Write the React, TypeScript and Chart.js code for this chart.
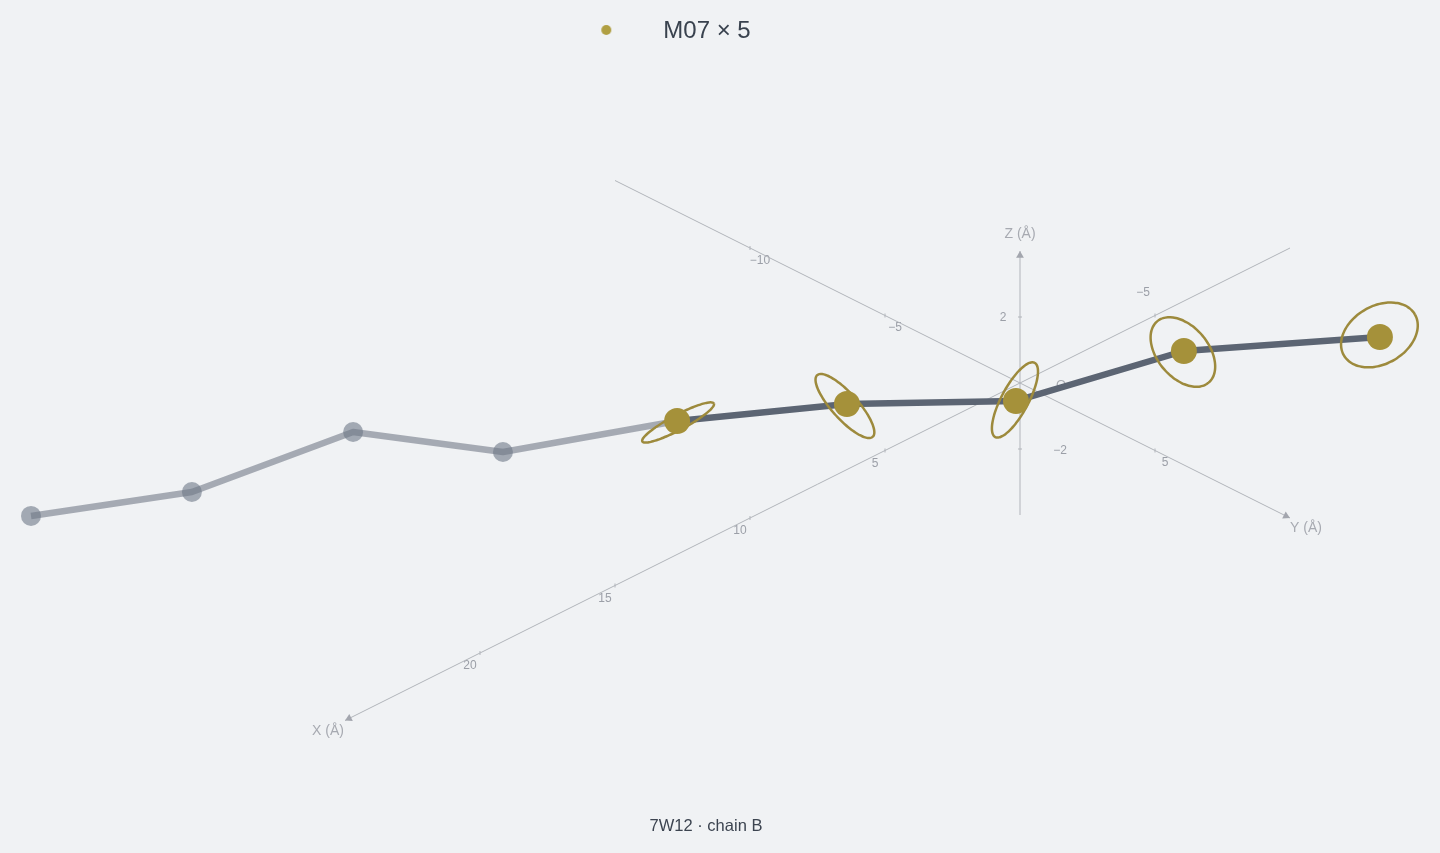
import React, { useEffect, useRef } from "react";
import { Chart, registerables } from "chart.js";

Chart.register(...registerables);

// Chain trace in Å (x, y, z)
const chainX = [23.85, 20.35, 16.0, 12.62, 8.49, 4.35, 0.495, -3.12, -7.76];
const chainY = [-12.78, -10.32, -8.7, -6.53, -4.21, -2.06, 0.345, 2.95, 5.57];
const chainZ = [0.5, 0.8, 1.5, 0.4, 0.6, 0.3, -0.2, 0.9, 0.5];
const firstMetalIndex = 4;

// Displacement ellipses of the metal sites, in view units
const ringMajor = [40.5, 41.5, 42, 40, 41];
const ringMinor = [7.5, 13, 13.5, 25.5, 29];
const ringAngle = [-28, 48, -62, 50, -30];
const ringShiftX = [1, -2, -1, -1, -0.5];
const ringShiftY = [1.5, 2, -1, 1, -2];

const xAxisRange = [25, -10];
const yAxisRange = [-15, 10];
const zAxisRange = [-4, 4];
const xTicks = [-5, 5, 10, 15, 20];
const yTicks = [-10, -5, 5];
const zTicks = [-2, 2];
const legendText = "M07 × 5";
const titleText = "7W12 · chain B";

const BG = "#f0f2f4";
const GOLD = "#a5913a";
const RING = "#9d8a3c";
const AXIS = "#b1b4ba";
const TICK_TEXT = "#9b9fa7";
const NAME_TEXT = "#a7aab1";
const FONT = '"Liberation Sans", Arial, sans-serif';

const project = (x: number, y: number, z: number) => ({
  x: 1020 + 27 * (y - x),
  y: 383 + 13.5 * (x + y) - 33 * z,
});

const chainPoints = chainX.map((x, i) => project(x, chainY[i], chainZ[i]));

const ringPoints = () => {
  const out: { x: number; y: number }[] = [];
  chainPoints.slice(firstMetalIndex).forEach((c, i) => {
    const a = (ringAngle[i] * Math.PI) / 180;
    for (let k = 0; k <= 72; k++) {
      const t = (k / 72) * 2 * Math.PI;
      const u = ringMajor[i] * Math.cos(t);
      const v = ringMinor[i] * Math.sin(t);
      out.push({
        x: c.x + ringShiftX[i] + u * Math.cos(a) - v * Math.sin(a),
        y: c.y + ringShiftY[i] + u * Math.sin(a) + v * Math.cos(a),
      });
    }
    out.push({ x: NaN, y: NaN });
  });
  return out;
};

const legendDot = () => {
  const c = document.createElement("canvas");
  c.width = 12;
  c.height = 12;
  const g = c.getContext("2d")!;
  g.fillStyle = "#b09f42";
  g.beginPath();
  g.arc(6, 5, 5, 0, Math.PI * 2);
  g.fill();
  return c;
};

const fitPlugin = {
  id: "fit",
  afterLayout(chart: any) {
    const { x, y } = chart.scales;
    x.min = x.left;
    x.max = x.right;
    x.configure();
    y.min = y.top;
    y.max = y.bottom;
    y.configure();
    chart.legend.right = 1312;
    chart.titleBlock.right = 1412;
  },
};

const labelPlugin = {
  id: "axisLabels",
  beforeDatasetsDraw(chart: any) {
    const { ctx, scales } = chart;
    const put = (text: string, p: { x: number; y: number }, dx: number, dy: number, size: number, color: string) => {
      ctx.font = `${size}px ${FONT}`;
      ctx.fillStyle = color;
      ctx.textAlign = "center";
      ctx.textBaseline = "middle";
      ctx.fillText(text, scales.x.getPixelForValue(p.x) + dx, scales.y.getPixelForValue(p.y) + dy);
    };
    ctx.save();
    const fmt = (v: number) => (v < 0 ? `−${-v}` : `${v}`);
    xTicks.forEach((v) => {
      if (v < 0) put(fmt(v), project(v, 0, 0), -12, -23, 12, TICK_TEXT);
      else put(fmt(v), project(v, 0, 0), -10, 13, 12, TICK_TEXT);
    });
    yTicks.forEach((v) => put(fmt(v), project(0, v, 0), 10, 12.5, 12, TICK_TEXT));
    put("2", project(0, 0, 2), -17, 1, 12, TICK_TEXT);
    put("−2", project(0, 0, -2), 40, 2, 12, TICK_TEXT);
    put("O", project(0, 0, 0), 41, 2, 13, NAME_TEXT);
    put("X (Å)", project(xAxisRange[0], 0, 0), -17, 11, 14, NAME_TEXT);
    put("Y (Å)", project(0, yAxisRange[1], 0), 16, 10, 14, NAME_TEXT);
    put("Z (Å)", project(0, 0, zAxisRange[1]), 0, -17, 14, NAME_TEXT);
    ctx.restore();
  },
};

export default function App() {
  const ref = useRef<HTMLCanvasElement>(null);

  useEffect(() => {
    document.body.style.margin = "0";
    document.body.style.background = BG;
    const axisLine = (pts: { x: number; y: number }[], order: number) => ({
      data: pts,
      showLine: true,
      borderColor: AXIS,
      borderWidth: 1,
      pointRadius: 0,
      order,
    });
    const arrow = (p: { x: number; y: number }, rotation: number) => ({
      data: [p],
      pointStyle: "triangle",
      pointRotation: rotation,
      pointRadius: 4.5,
      pointBackgroundColor: "#a3a6ae",
      pointBorderWidth: 0,
      order: 9,
    });
    const tickMarks = (pts: { x: number; y: number }[], rotation: number) => ({
      data: pts,
      pointStyle: "line",
      pointRotation: rotation,
      pointRadius: 2,
      pointBorderColor: AXIS,
      pointBorderWidth: 1,
      order: 9,
    });

    const chart = new Chart(ref.current!, {
      type: "scatter",
      data: {
        datasets: [
          axisLine(xAxisRange.map((v) => project(v, 0, 0)), 10),
          axisLine(yAxisRange.map((v) => project(0, v, 0)), 10),
          axisLine(zAxisRange.map((v) => project(0, 0, v)), 10),
          arrow(project(xAxisRange[0] - 0.15, 0, 0), 243),
          arrow(project(0, yAxisRange[1] - 0.15, 0), 117),
          arrow(project(0, 0, zAxisRange[1] - 0.14), 0),
          tickMarks(xTicks.map((v) => project(v, 0, 0)), 90),
          tickMarks(yTicks.map((v) => project(0, v, 0)), 90),
          tickMarks(zTicks.map((v) => project(0, 0, v)), 0),
          {
            label: "backbone faded",
            data: chainPoints.slice(0, firstMetalIndex + 1),
            showLine: true,
            borderColor: "rgba(104,112,126,0.55)",
            borderWidth: 6.5,
            borderJoinStyle: "round",
            pointRadius: 0,
            order: 8,
          },
          {
            label: "backbone",
            data: chainPoints.slice(firstMetalIndex),
            showLine: true,
            borderColor: "#5c6573",
            borderWidth: 6.5,
            borderJoinStyle: "round",
            pointRadius: 0,
            order: 7,
          },
          {
            label: "faded sites",
            data: chainPoints.slice(0, firstMetalIndex),
            pointRadius: 10,
            pointBackgroundColor: "rgba(110,120,135,0.6)",
            pointBorderWidth: 0,
            order: 6,
          },
          {
            label: "ellipses",
            data: ringPoints(),
            showLine: true,
            spanGaps: false,
            tension: 0.3,
            borderColor: RING,
            borderWidth: 2.5,
            pointRadius: 0,
            order: 5,
          },
          {
            label: "M07",
            data: chainPoints.slice(firstMetalIndex),
            pointRadius: 13,
            pointBackgroundColor: GOLD,
            pointBorderWidth: 0,
            order: 4,
          },
        ] as any,
      },
      options: {
        animation: false,
        responsive: false,
        devicePixelRatio: 1,
        events: [],
        layout: { padding: 0 },
        scales: {
          x: { type: "linear", display: false, bounds: "data" },
          y: { type: "linear", display: false, reverse: true, bounds: "data" },
        },
        plugins: {
          tooltip: { enabled: false },
          legend: {
            display: true,
            position: "top",
            align: "center",
            labels: {
              usePointStyle: true,
              pointStyleWidth: 90,
              boxHeight: 10,
              padding: 19,
              color: "#39424e",
              font: { size: 24, family: FONT },
              generateLabels: () => [
                {
                  text: legendText,
                  pointStyle: legendDot() as any,
                  fontColor: "#39424e",
                  lineWidth: 0,
                  hidden: false,
                  datasetIndex: 13,
                },
              ],
            },
          },
          title: {
            display: true,
            text: titleText,
            position: "bottom",
            color: "#3c4450",
            padding: { top: 0, bottom: 17 },
            font: { size: 16.5, weight: "normal", family: FONT },
          },
        },
      } as any,
      plugins: [fitPlugin, labelPlugin] as any,
    });
    return () => chart.destroy();
  }, []);

  return (
    <div style={{ width: 1440, height: 853, background: BG, overflow: "hidden" }}>
      <canvas ref={ref} width={1440} height={853} style={{ display: "block" }} />
    </div>
  );
}
